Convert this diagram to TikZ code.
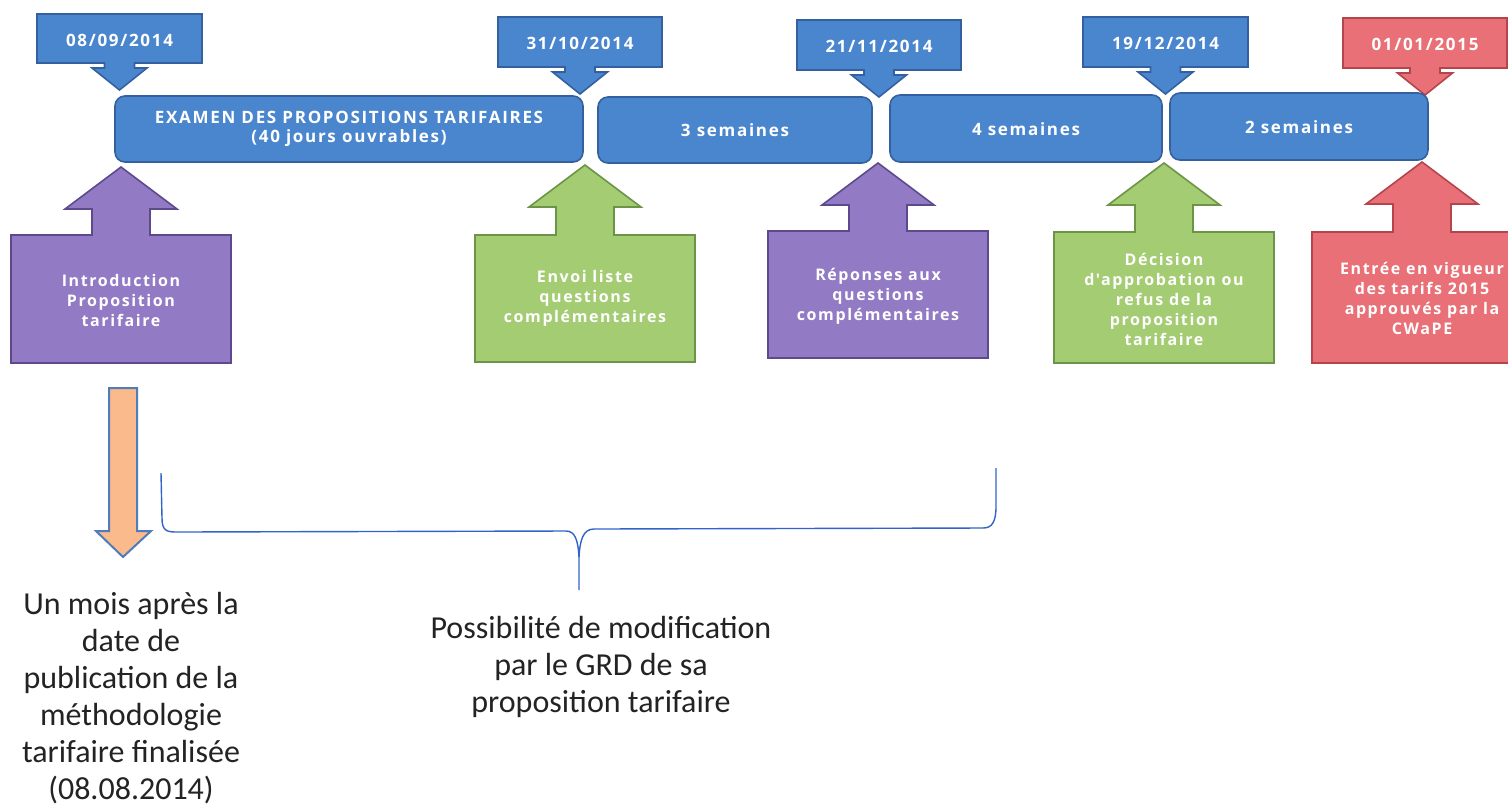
\documentclass[tikz,border=0pt]{standalone}
\usepackage{fontspec}
\setmainfont{Carlito}
\newfontfamily\boxfont[LetterSpace=10]{Open Sans}
\definecolor{cblue}{RGB}{74,134,206}
\definecolor{cblueb}{RGB}{52,96,160}
\definecolor{cpurple}{RGB}{146,122,196}
\definecolor{cpurpleb}{RGB}{92,74,140}
\definecolor{cgreen}{RGB}{164,204,114}
\definecolor{cgreenb}{RGB}{108,148,70}
\definecolor{cred}{RGB}{232,112,118}
\definecolor{credb}{RGB}{178,70,76}
\definecolor{corange}{RGB}{250,186,140}
\definecolor{corangeb}{RGB}{80,124,186}
\definecolor{cbrace}{RGB}{50,100,200}
\definecolor{notegray}{RGB}{35,35,35}
% date callout: #1 x1, #2 x2, #3 ytop, #4 ybottom, #5 style
\newcommand\datecallout[5]{%
  \draw[#5] (#1,#3) -- (#2,#3) -- (#2,#4) -- ({(#1+#2)/2+15},#4) -- ({(#1+#2)/2+15},#4+5)
    -- ({(#1+#2)/2+27.5},#4+5) -- ({(#1+#2)/2},#4+27) -- ({(#1+#2)/2-27.5},#4+5)
    -- ({(#1+#2)/2-15},#4+5) -- ({(#1+#2)/2-15},#4) -- (#1,#4) -- cycle;}
% up-arrow box: #1 cx, #2 tip y, #3 box top, #4 box bottom, #5 style
\newcommand\upbox[5]{%
  \draw[#5] (#1-110,#3) -- (#1-29,#3) -- (#1-29,#2+42) -- (#1-56,#2+42) -- (#1,#2)
    -- (#1+56,#2+42) -- (#1+29,#2+42) -- (#1+29,#3) -- (#1+110,#3) -- (#1+110,#4)
    -- (#1-110,#4) -- cycle;}
\begin{document}
\begin{tikzpicture}[x=0.5pt,y=-0.5pt,line join=miter,
  bluefill/.style={fill=cblue,draw=cblueb,line width=0.8pt},
  purplefill/.style={fill=cpurple,draw=cpurpleb,line width=0.8pt},
  greenfill/.style={fill=cgreen,draw=cgreenb,line width=0.8pt},
  redfill/.style={fill=cred,draw=credb,line width=0.8pt},
  barshape/.style={bluefill,rounded corners=5pt},
  datetext/.style={text=white,font=\boxfont\bfseries\fontsize{8.5}{10}\selectfont,inner sep=0pt},
  bartext/.style={text=white,font=\boxfont\bfseries\fontsize{8.5}{9.5}\selectfont,align=center,inner sep=0pt},
  boxtext/.style={text=white,font=\boxfont\bfseries\fontsize{8}{10}\selectfont,align=center,inner sep=0pt},
  note/.style={text=notegray,font=\fontsize{16}{18.5}\selectfont,align=center,inner sep=0pt},
  bracestyle/.style={draw=cbrace,line width=0.7pt}]
\useasboundingbox (0,0) rectangle (1508,805);
\clip (0,0) rectangle (1508,805);
\fill[white] (0,0) rectangle (1508,805);

% date callouts
\datecallout{37}{202}{14}{63}{bluefill}
\datecallout{498}{662}{17}{67}{bluefill}
\datecallout{797}{961}{20}{70}{bluefill}
\datecallout{1083}{1248}{17}{67}{bluefill}
\datecallout{1343}{1507}{18}{68}{redfill}
\node[datetext] (d1) at (119.5,40) {08/09/2014};
\node[datetext] (d2) at (580,43) {31/10/2014};
\node[datetext] (d3) at (879,46) {21/11/2014};
\node[datetext] (d4) at (1165.5,43) {19/12/2014};
\node[datetext] (d5) at (1425,44) {01/01/2015};

% timeline bars
\draw[barshape] (115,96) rectangle (583,162);
\draw[barshape] (598,97) rectangle (872,163);
\draw[barshape] (890,95) rectangle (1162,162);
\draw[barshape] (1170,93) rectangle (1428,160);
\node[bartext] (b1) at (349,129) {EXAMEN DES PROPOSITIONS TARIFAIRES\\(40 jours ouvrables)};
\node[bartext] (b2) at (735,130) {3 semaines};
\node[bartext] (b3) at (1026,129) {4 semaines};
\node[bartext] (b4) at (1299,127) {2 semaines};

% up-arrow boxes
\upbox{121}{167}{235}{363}{purplefill}
\upbox{585}{165}{235}{362}{greenfill}
\upbox{878}{163}{231}{358}{purplefill}
\upbox{1164}{163}{232}{363}{greenfill}
\upbox{1422}{162}{232}{363}{redfill}
\node[boxtext] (t1) at (121,300) {Introduction\\Proposition\\tarifaire};
\node[boxtext] (t2) at (585,298) {Envoi liste\\questions\\complémentaires};
\node[boxtext] (t3) at (878,296) {Réponses aux\\questions\\complémentaires};
\node[boxtext] (t4) at (1164,299) {Décision\\d'approbation ou\\refus de la\\proposition\\tarifaire};
\node[boxtext] (t5) at (1422,298) {Entrée en vigueur\\des tarifs 2015\\approuvés par la\\CWaPE};

% orange down arrow
\draw[fill=corange,draw=corangeb,line width=1pt] (109,388) -- (137,388) -- (137,531) -- (151,531)
  -- (123,557) -- (96,531) -- (109,531) -- cycle;

% brace
\draw[bracestyle] (161,473) -- (162,518) .. controls (162,530) and (166,532) .. (176,532)
  -- (566,531) .. controls (575,531) and (578,540) .. (579,557) -- (579,590);
\draw[bracestyle] (579,557) .. controls (580,540) and (583,529) .. (594,529)
  -- (983,528) .. controls (992,528) and (996,522) .. (996,506) -- (996,468);

% notes
\node[note] (n1) at (131,698) {Un mois après la\\date de\\publication de la\\méthodologie\\tarifaire finalisée\\(08.08.2014)};
\node[note] (n2) at (601,667) {Possibilité de modification\\par le GRD de sa\\proposition tarifaire};
\end{tikzpicture}
\end{document}
